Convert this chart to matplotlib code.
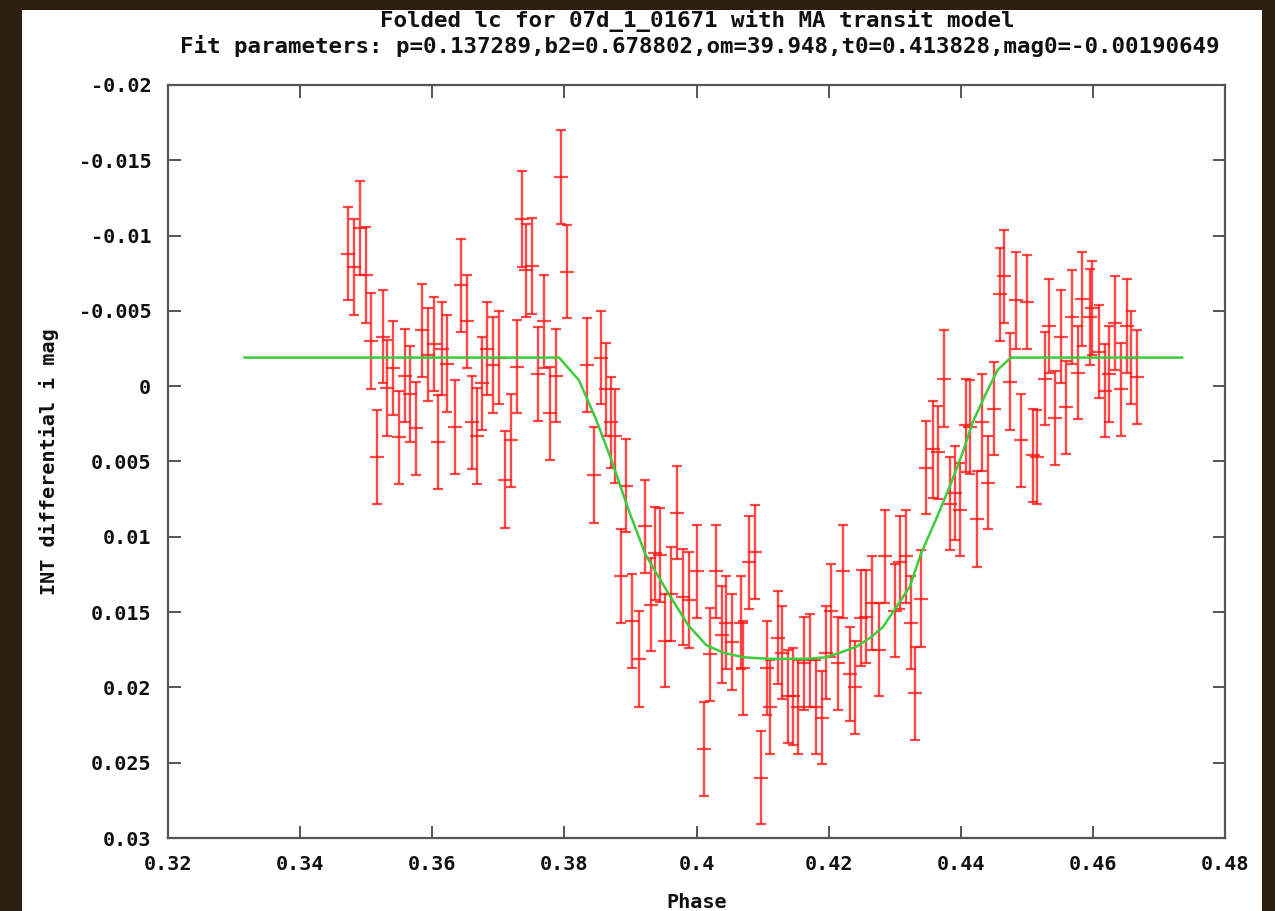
import matplotlib
matplotlib.use('Agg')
import matplotlib.pyplot as plt
from matplotlib.patches import Rectangle

# ---------------- data ----------------
phase = [
    0.3472, 0.3482, 0.3490, 0.3500, 0.3508, 0.3517, 0.3525, 0.3532, 0.3541, 0.3549,
    0.3558, 0.3567, 0.3576, 0.3585, 0.3593, 0.3602, 0.3609, 0.3615, 0.3623,
    0.3635, 0.3644, 0.3653, 0.3660, 0.3668, 0.3676, 0.3683, 0.3692, 0.3701, 0.3710,
    0.3719, 0.3728, 0.3736, 0.3742, 0.3751, 0.3760, 0.3769, 0.3778, 0.3787,
    0.3795, 0.3804,
    0.3835, 0.3845, 0.3855, 0.3863, 0.3870, 0.3876, 0.3885, 0.3894, 0.3903, 0.3913,
    0.3922, 0.3931, 0.3937, 0.3944, 0.3953, 0.3962,
    0.3970, 0.3980, 0.3989, 0.4000, 0.4012, 0.4021, 0.4029, 0.4038, 0.4045, 0.4054,
    0.4068, 0.4071, 0.4080, 0.4088, 0.4097, 0.4106, 0.4112,
    0.4124, 0.4130, 0.4139, 0.4146, 0.4154, 0.4163, 0.4172, 0.4181, 0.4190, 0.4196,
    0.4204, 0.4214, 0.4222, 0.4232, 0.4240, 0.4249, 0.4257, 0.4266, 0.4276, 0.4285,
    0.4300, 0.4308, 0.4317, 0.4325, 0.4331, 0.4340, 0.4347, 0.4358, 0.4365, 0.4374,
    0.4383, 0.4391, 0.4399, 0.4408, 0.4414, 0.4424, 0.4432, 0.4442, 0.4450,
    0.4459, 0.4466, 0.4474, 0.4483, 0.4491, 0.4500, 0.4509, 0.4516, 0.4527, 0.4533,
    0.4542, 0.4551, 0.4559, 0.4568, 0.4577, 0.4584, 0.4595, 0.4599, 0.4610, 0.4619,
    0.4625, 0.4634, 0.4643, 0.4652, 0.4657, 0.4667,
]

mag = [
    -0.0088, -0.0079, -0.0105, -0.0074, -0.0030, 0.0047, -0.0033, 0.0001, -0.0012, 0.0034,
    -0.0007, 0.0005, 0.0028, -0.0037, -0.0021, -0.0028, 0.0037, -0.0025, -0.0015,
    0.0027, -0.0067, -0.0043, 0.0024, 0.0033, -0.0002, -0.0025, -0.0014, -0.0019, 0.0062,
    0.0036, -0.0013, -0.0111, -0.0077, -0.0080, -0.0008, -0.0043, 0.0018, -0.0007,
    -0.0139, -0.0076,
    -0.0014, 0.0059, -0.0019, 0.0002, 0.0024, 0.0033, 0.0126, 0.0066, 0.0156, 0.0181,
    0.0093, 0.0145, 0.0111, 0.0112, 0.0169, 0.0138,
    0.0084, 0.0140, 0.0142, 0.0123, 0.0241, 0.0178, 0.0123, 0.0165, 0.0157, 0.0170,
    0.0157, 0.0187, 0.0117, 0.0110, 0.0260, 0.0187, 0.0213,
    0.0167, 0.0177, 0.0206, 0.0206, 0.0213, 0.0184, 0.0182, 0.0213, 0.0220, 0.0177,
    0.0149, 0.0184, 0.0123, 0.0191, 0.0200, 0.0154, 0.0153, 0.0144, 0.0175, 0.0113,
    0.0149, 0.0117, 0.0113, 0.0157, 0.0204, 0.0141, 0.0054, 0.0042, 0.0044, -0.0005,
    0.0078, 0.0071, 0.0082, 0.0026, 0.0027, 0.0088, 0.0024, 0.0064, 0.0015,
    -0.0061, -0.0073, -0.0003, -0.0057, 0.0036, -0.0056, 0.0046, 0.0047, -0.0005, -0.0040,
    0.0021, -0.0033, 0.0014, -0.0046, -0.0009, -0.0058, -0.0046, -0.0052, -0.0023, 0.0003,
    -0.0008, -0.0042, 0.0002, -0.0040, -0.0019, -0.0006,
]

mag_err = [
    0.0031, 0.0032, 0.0031, 0.0032, 0.0032, 0.0031, 0.0031, 0.0032, 0.0031, 0.0031,
    0.0031, 0.0032, 0.0031, 0.0031, 0.0031, 0.0031, 0.0031, 0.0031, 0.0032,
    0.0031, 0.0031, 0.0031, 0.0031, 0.0032, 0.0031, 0.0031, 0.0032, 0.0031, 0.0032,
    0.0031, 0.0031, 0.0032, 0.0031, 0.0032, 0.0031, 0.0031, 0.0031, 0.0031,
    0.0031, 0.0031,
    0.0031, 0.0032, 0.0031, 0.0031, 0.0030, 0.0031, 0.0031, 0.0031, 0.0031, 0.0032,
    0.0031, 0.0031, 0.0031, 0.0031, 0.0031, 0.0031,
    0.0031, 0.0032, 0.0032, 0.0031, 0.0031, 0.0031, 0.0031, 0.0032, 0.0031, 0.0032,
    0.0031, 0.0031, 0.0031, 0.0031, 0.0031, 0.0031, 0.0031,
    0.0031, 0.0031, 0.0031, 0.0032, 0.0031, 0.0031, 0.0031, 0.0031, 0.0031, 0.0031,
    0.0031, 0.0031, 0.0031, 0.0031, 0.0031, 0.0032, 0.0031, 0.0031, 0.0031, 0.0031,
    0.0031, 0.0031, 0.0031, 0.0031, 0.0031, 0.0032, 0.0031, 0.0032, 0.0031, 0.0032,
    0.0031, 0.0031, 0.0031, 0.0031, 0.0031, 0.0032, 0.0032, 0.0031, 0.0031,
    0.0031, 0.0031, 0.0032, 0.0032, 0.0031, 0.0031, 0.0031, 0.0031, 0.0031, 0.0031,
    0.0031, 0.0031, 0.0031, 0.0031, 0.0031, 0.0031, 0.0032, 0.0031, 0.0031, 0.0031,
    0.0032, 0.0031, 0.0031, 0.0031, 0.0031, 0.0031,
]

model_phase = [
    0.3316, 0.3792, 0.3804, 0.3822, 0.3848, 0.3872, 0.3897, 0.3923, 0.3958, 0.3988,
    0.4015, 0.4041, 0.4071, 0.4109, 0.4166, 0.4196, 0.4217, 0.4242, 0.4263, 0.4282,
    0.4302, 0.4323, 0.4340, 0.4362, 0.4383, 0.4403, 0.4418, 0.4438, 0.4456, 0.4476,
    0.4735,
]
model_mag = [
    -0.0019, -0.0019, -0.0013, -0.0004, 0.0022, 0.0050, 0.0082, 0.0112, 0.0138, 0.0159,
    0.0172, 0.0177, 0.0180, 0.0181, 0.0181, 0.0180, 0.0177, 0.0173, 0.0167, 0.0160,
    0.0147, 0.0133, 0.0111, 0.0089, 0.0067, 0.0044, 0.0024, 0.0005, -0.0011, -0.0019,
    -0.0019,
]

x_ticks = [0.32, 0.34, 0.36, 0.38, 0.40, 0.42, 0.44, 0.46, 0.48]
x_tick_labels = ['0.32', '0.34', '0.36', '0.38', '0.4', '0.42', '0.44', '0.46', '0.48']
y_ticks = [-0.02, -0.015, -0.01, -0.005, 0.0, 0.005, 0.01, 0.015, 0.02, 0.025, 0.03]
y_tick_labels = ['-0.02', '-0.015', '-0.01', '-0.005', '0', '0.005', '0.01',
                 '0.015', '0.02', '0.025', '0.03']

title_1 = 'Folded lc for 07d_1_01671 with MA transit model'
title_2 = ('Fit parameters: p=0.137289,b2=0.678802,om=39.948,'
           't0=0.413828,mag0=-0.00190649')

# ---------------- figure ----------------
W, H = 1275, 911
fig = plt.figure(figsize=(W / 100, H / 100), dpi=100)
fig.patch.set_facecolor('#2e1f11')
fig.add_artist(Rectangle((22 / W, 0), (1262 - 22) / W, (H - 10) / H,
                         transform=fig.transFigure, facecolor='white',
                         edgecolor='none', zorder=0))

FONT = 'DejaVu Sans Mono'
ax = fig.add_axes([168 / W, 1 - 838 / H, (1225 - 168) / W, (838 - 85) / H])
ax.set_facecolor('white')

ax.errorbar(phase, mag, yerr=mag_err, fmt='_', color='#ff1414', ms=9.5, mew=1.6,
            elinewidth=1.7, capsize=3.5, capthick=1.6, alpha=0.78, zorder=2)
ax.plot(model_phase, model_mag, color='#3ccc3c', lw=1.8, zorder=3)

ax.set_xlim(0.32, 0.48)
ax.set_ylim(0.03, -0.02)
ax.set_xticks(x_ticks)
ax.set_xticklabels(x_tick_labels)
ax.set_yticks(y_ticks)
ax.set_yticklabels(y_tick_labels)

for sp in ax.spines.values():
    sp.set_color('#555555')
    sp.set_linewidth(1.6)

ax.tick_params(direction='in', length=9, width=1.4, colors='#555555',
               top=True, right=True, labelcolor='#111111', pad=12)
for lab in ax.get_xticklabels() + ax.get_yticklabels():
    lab.set_fontfamily(FONT)
    lab.set_fontweight('bold')
    lab.set_fontsize(14.5)

ax.set_xlabel('Phase', fontfamily=FONT, fontweight='bold', fontsize=14.5,
              color='#111111', labelpad=14)
ax.set_ylabel('INT differential i mag', fontfamily=FONT, fontweight='bold',
              fontsize=14.5, color='#111111', labelpad=14)

fig.text(697 / W, 1 - 20 / H, title_1, ha='center', va='center',
         fontfamily=FONT, fontweight='bold', fontsize=16.2, color='#111111')
fig.text(700 / W, 1 - 46 / H, title_2, ha='center', va='center',
         fontfamily=FONT, fontweight='bold', fontsize=16.2, color='#111111')

fig.savefig('out.png', dpi=100, facecolor=fig.get_facecolor())
